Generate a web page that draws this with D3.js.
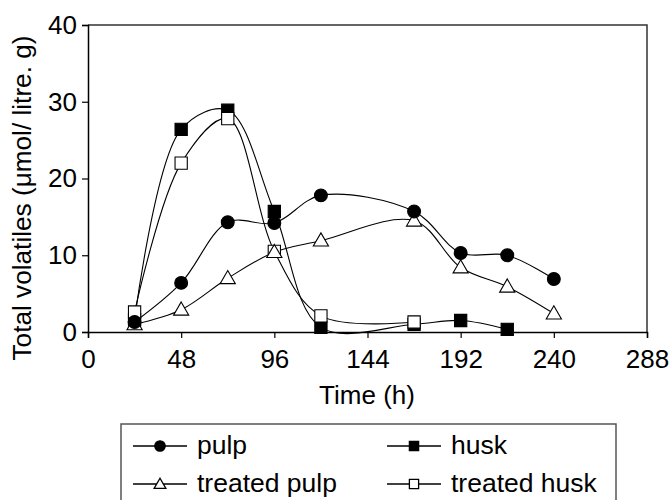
<!DOCTYPE html>
<html lang="en">
<head>
    <meta charset="UTF-8">
    <title>Total volatiles</title>
    <style>
        body { margin: 0; background: #fff; }
        text { font-family: "Liberation Sans", Arial, sans-serif; fill: #000; }
    </style>
</head>
<body>
    <div id="chart"></div>

    <script src="https://d3js.org/d3.v7.min.js"></script>
    <script>
        // Data
        const pulpHours = [24, 48, 72, 96, 120, 168, 192, 216, 240];
        const pulp = [1.3, 6.4, 14.3, 14.2, 17.8, 15.7, 10.3, 10.0, 6.9];
        const treatedPulp = [1.0, 2.9, 7.0, 10.4, 11.9, 14.5, 8.4, 5.9, 2.4];

        const huskHours = [24, 48, 72, 96, 120, 168, 192, 216];
        const husk = [1.6, 26.4, 28.9, 15.7, 0.6, 1.0, 1.5, 0.35];

        const treatedHuskHours = [24, 48, 72, 96, 120, 168];
        const treatedHusk = [2.6, 22.0, 27.8, 10.5, 2.1, 1.3];

        const xTicks = [0, 48, 96, 144, 192, 240, 288];
        const yTicks = [0, 10, 20, 30, 40];

        const width = 672;
        const height = 500;

        const svg = d3.select("#chart")
            .append("svg")
            .attr("width", width)
            .attr("height", height);

        const x = d3.scaleLinear().domain([0, 288]).range([88, 647]);
        const y = d3.scaleLinear().domain([0, 40]).range([332, 25]);

        // frame (top and right)
        svg.append("path")
            .attr("d", `M${x(0)},${y(40)}H${x(288)}V${y(0)}`)
            .attr("fill", "none")
            .attr("stroke", "#333")
            .attr("stroke-width", 1.5);

        // axes
        const xAxis = svg.append("g")
            .attr("transform", `translate(0,${y(0)})`)
            .call(d3.axisBottom(x).tickValues(xTicks).tickSize(6).tickPadding(12));
        const yAxis = svg.append("g")
            .attr("transform", `translate(${x(0)},0)`)
            .call(d3.axisLeft(y).tickValues(yTicks).tickSize(6).tickPadding(5));

        [xAxis, yAxis].forEach(a => {
            a.select(".domain").attr("stroke", "#000").attr("stroke-width", 1.5);
            a.selectAll(".tick line").attr("stroke", "#000").attr("stroke-width", 1.2);
            a.selectAll(".tick text")
                .style("font-family", "Liberation Sans, Arial, sans-serif")
                .style("font-size", "26px")
                .attr("fill", "#000");
        });

        // axis titles
        svg.append("text")
            .attr("x", 367)
            .attr("y", 404)
            .attr("text-anchor", "middle")
            .style("font-size", "26px")
            .text("Time (h)");

        svg.append("text")
            .attr("transform", "translate(31,198) rotate(-90)")
            .attr("text-anchor", "middle")
            .attr("textLength", 325)
            .attr("lengthAdjust", "spacingAndGlyphs")
            .style("font-size", "26px")
            .text("Total volatiles (\u03bcmol/ litre. g)");

        // series
        const series = [
            { name: "husk", hours: huskHours, values: husk, shape: d3.symbolSquare, fill: "#000" },
            { name: "treated husk", hours: treatedHuskHours, values: treatedHusk, shape: d3.symbolSquare, fill: "#fff" },
            { name: "treated pulp", hours: pulpHours, values: treatedPulp, shape: d3.symbolTriangle, fill: "#fff" },
            { name: "pulp", hours: pulpHours, values: pulp, shape: d3.symbolCircle, fill: "#000" }
        ];

        const line = d3.line()
            .x(d => x(d[0]))
            .y(d => y(d[1]))
            .curve(d3.curveCatmullRom.alpha(0.5));

        function sizeOf(shape) {
            if (shape === d3.symbolSquare) return 150;
            if (shape === d3.symbolCircle) return 130;
            return 100;
        }

        series.forEach(s => {
            const pts = s.hours.map((h, i) => [h, s.values[i]]);
            svg.append("path")
                .attr("d", line(pts))
                .attr("fill", "none")
                .attr("stroke", "#000")
                .attr("stroke-width", 1.1);
        });

        series.forEach(s => {
            const pts = s.hours.map((h, i) => [h, s.values[i]]);
            svg.append("g")
                .selectAll("path")
                .data(pts)
                .enter()
                .append("path")
                .attr("transform", d => `translate(${x(d[0])},${y(d[1]) + (s.shape === d3.symbolTriangle ? 1 : 0)})`)
                .attr("d", d3.symbol().type(s.shape).size(sizeOf(s.shape)))
                .attr("fill", s.fill)
                .attr("stroke", "#000")
                .attr("stroke-width", 1.1);
        });

        // Legend
        svg.append("rect")
            .attr("x", 121)
            .attr("y", 424)
            .attr("width", 495)
            .attr("height", 100)
            .attr("fill", "#fff")
            .attr("stroke", "#555")
            .attr("stroke-width", 1.5);

        const legendItems = [
            { name: "pulp", shape: d3.symbolCircle, fill: "#000", lx: 133, ly: 446 },
            { name: "husk", shape: d3.symbolSquare, fill: "#000", lx: 387, ly: 446 },
            { name: "treated pulp", shape: d3.symbolTriangle, fill: "#fff", lx: 133, ly: 484 },
            { name: "treated husk", shape: d3.symbolSquare, fill: "#fff", lx: 387, ly: 484 }
        ];

        const legend = svg.selectAll(".legend")
            .data(legendItems)
            .enter()
            .append("g")
            .attr("class", "legend")
            .attr("transform", d => `translate(${d.lx},${d.ly})`);

        legend.append("line")
            .attr("x1", 0)
            .attr("x2", 54)
            .attr("stroke", "#000")
            .attr("stroke-width", 1.5);

        legend.append("path")
            .attr("transform", d => `translate(27,${d.shape === d3.symbolTriangle ? 1 : 0})`)
            .attr("d", d => d3.symbol().type(d.shape).size(d.shape === d3.symbolTriangle ? 60 : 85)())
            .attr("fill", d => d.fill)
            .attr("stroke", "#000")
            .attr("stroke-width", 1.3);

        legend.append("text")
            .attr("x", 64)
            .attr("y", 8)
            .style("font-size", "26.5px")
            .text(d => d.name);
    </script>
</body>
</html>
